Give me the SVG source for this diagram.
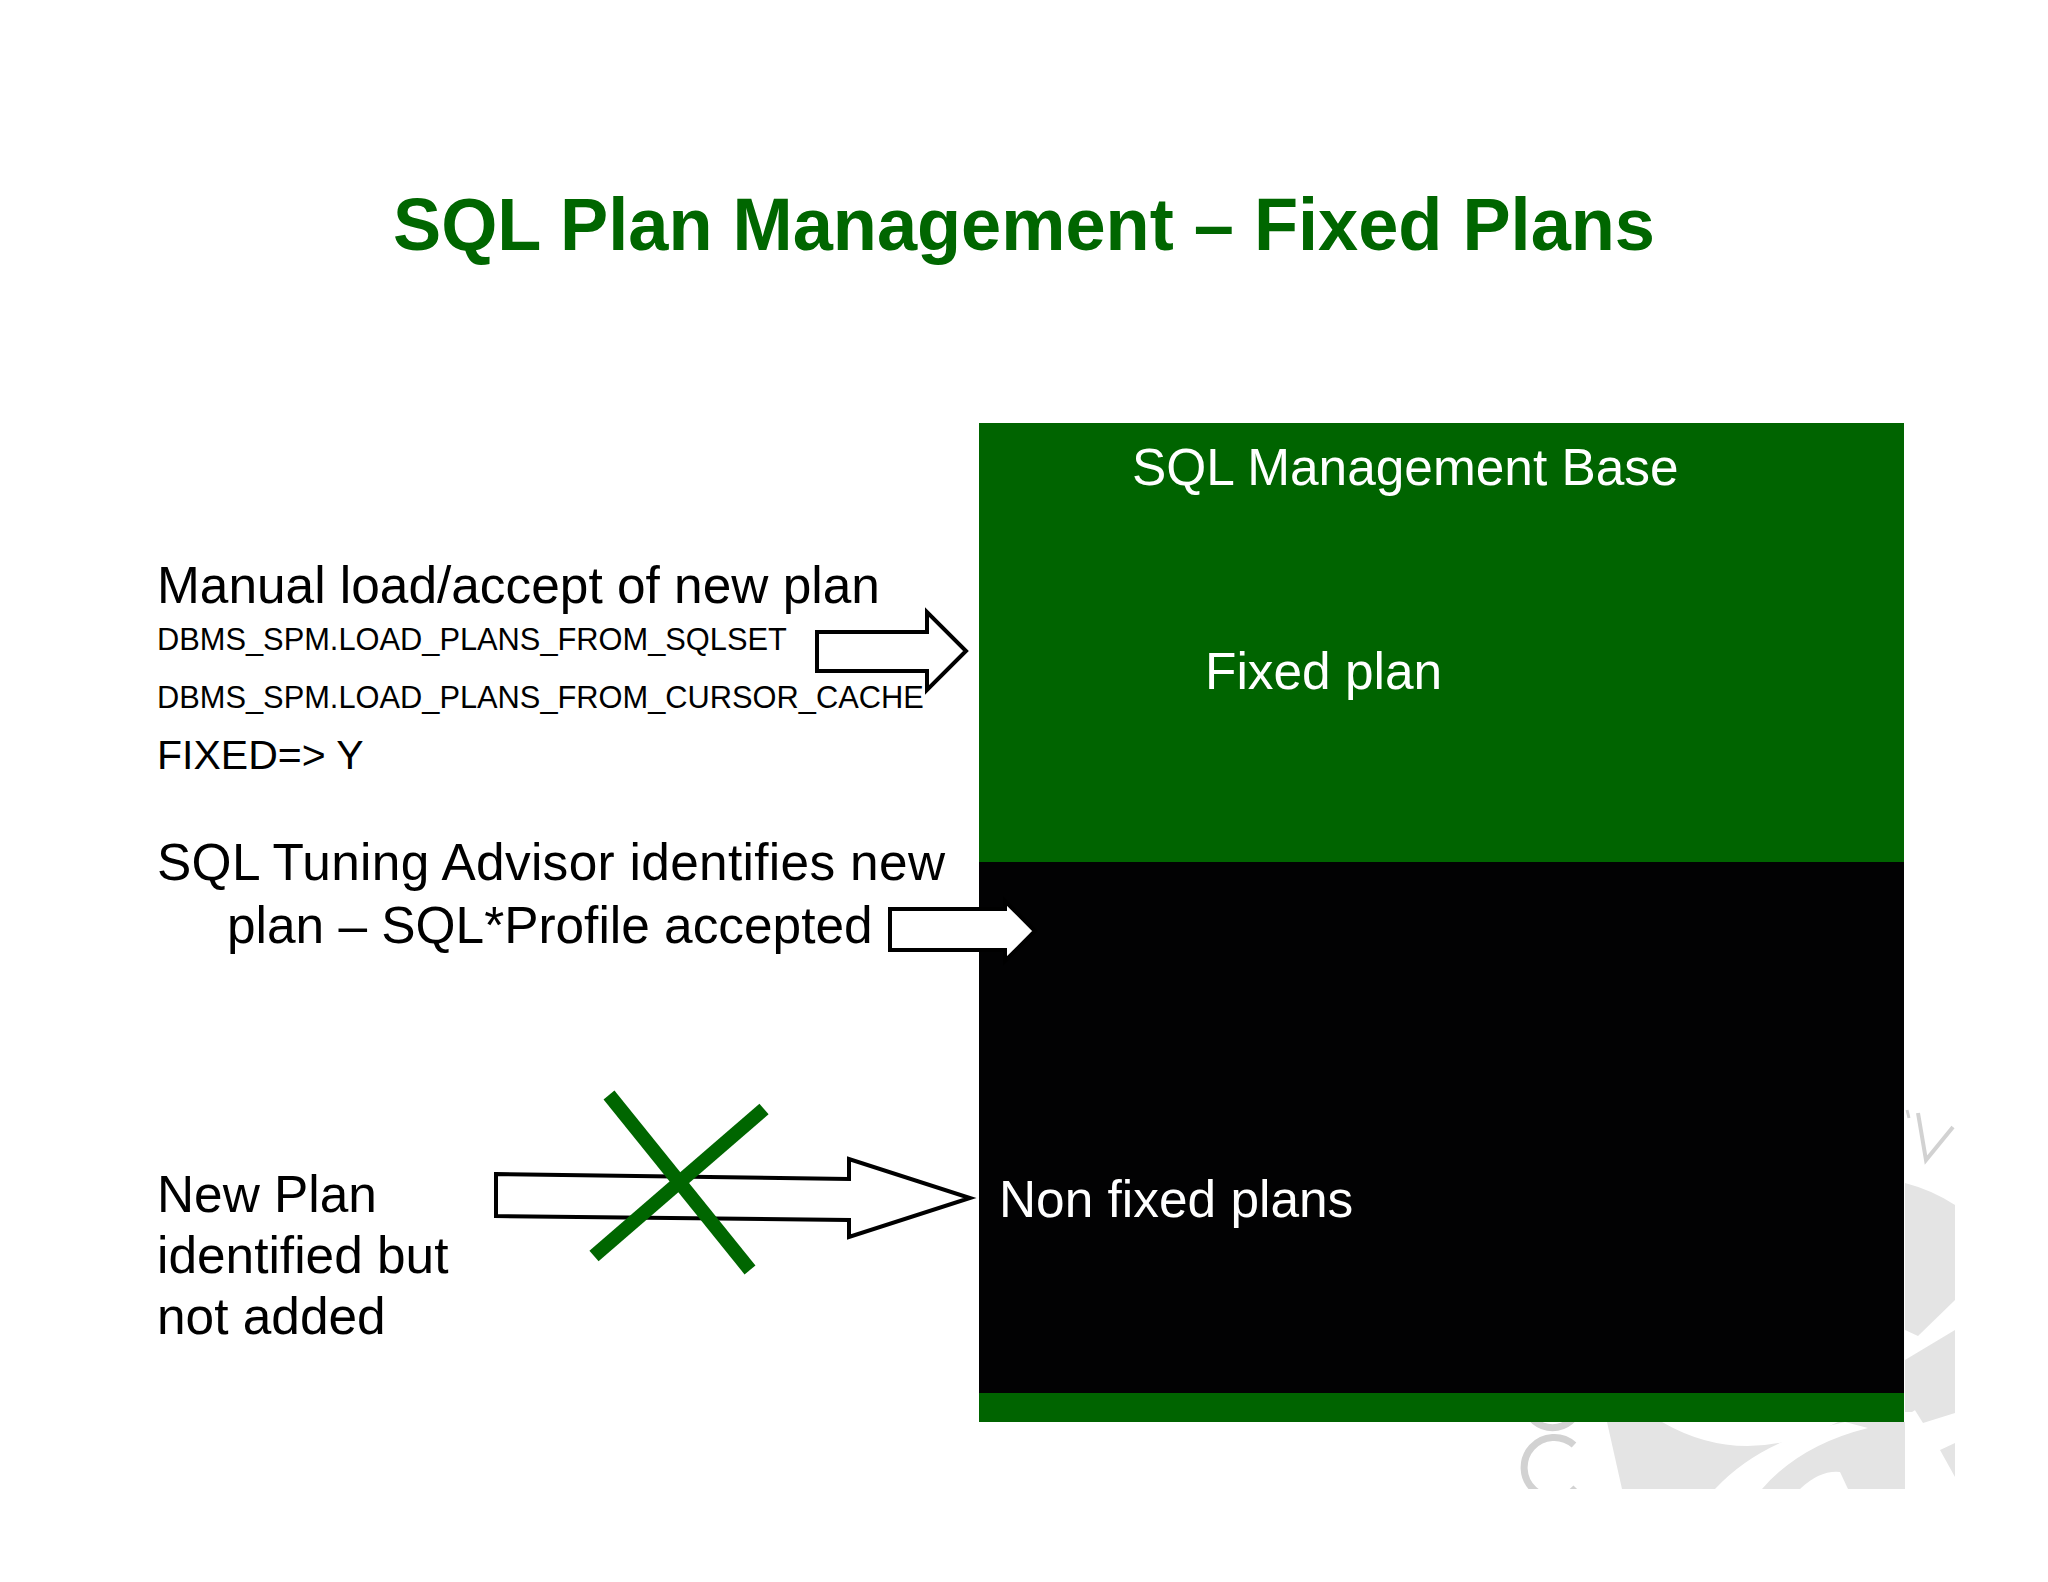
<svg xmlns="http://www.w3.org/2000/svg" width="2048" height="1582" viewBox="0 0 2048 1582">
  <defs>
    <style>
      .t { font-family: "Liberation Sans", Arial, sans-serif; fill: #000; }
      .w { font-family: "Liberation Sans", Arial, sans-serif; fill: #fff; }
      .big { font-size: 51.4px; }
      .code { font-size: 30.8px; }
      .blk { fill: #fff; stroke: #000; stroke-width: 4; stroke-linejoin: miter; }
      .wm { fill: #e4e4e4; }
      .wml { fill: none; stroke: #d2d2d2; stroke-width: 7; }
      .cross { stroke: #006600; stroke-width: 14; stroke-linecap: butt; }
    </style>
    <clipPath id="wmclip">
      <rect x="1450" y="1080" width="505" height="409"/>
    </clipPath>
  </defs>
  <rect width="2048" height="1582" fill="#fff"/>

  <g id="watermark" clip-path="url(#wmclip)">
    <path class="wm" d="M1607,1422 L1905,1422 L1905,1489 L1622,1489 Z"/>
    <path fill="#fff" d="M1662,1422 Q1745,1470 1838,1422 Z"/>
    <path fill="#fff" d="M1715,1489 L1762,1489 Q1800,1445 1868,1428 L1845,1422 Q1760,1440 1715,1489 Z"/>
    <path fill="#fff" d="M1800,1489 Q1820,1470 1840,1472 L1848,1489 Z"/>
    <path class="wm" d="M1905,1183 Q1932,1190 1955,1205 L1955,1300 L1918,1336 L1905,1330 Z"/>
    <path class="wm" d="M1905,1360 L1955,1330 L1955,1385 L1912,1412 L1905,1412 Z"/>
    <path class="wm" d="M1913,1407 L1955,1380 L1955,1413 L1923,1423 Z"/>
    <path class="wm" d="M1940,1450 L1955,1443 L1955,1477 Z"/>
    <path class="wml" d="M1574,1445 A30,30 0 1 0 1576,1488"/>
    <path class="wml" d="M1525,1405 A28,28 0 0 0 1580,1405"/>
    <polyline points="1918,1113 1926,1160 1953,1127" fill="none" stroke="#d2d2d2" stroke-width="4"/>
    <line x1="1907" y1="1110" x2="1909" y2="1118" stroke="#d2d2d2" stroke-width="3"/>
  </g>

  <g id="title">
    <text x="393" y="250" font-family="Liberation Sans, Arial, sans-serif" font-weight="bold" font-size="74" fill="#006600" textLength="1262" lengthAdjust="spacingAndGlyphs">SQL Plan Management – Fixed Plans</text>
  </g>

  <g id="sql-management-base">
    <rect x="979" y="423" width="925" height="439" fill="#006400"/>
    <rect x="979" y="862" width="925" height="531" fill="#020203"/>
    <rect x="979" y="1393" width="925" height="29" fill="#006400"/>
    <text class="w big" x="1132" y="485">SQL Management Base</text>
  </g>

  <g id="fixed-plan">
    <text class="w big" x="1205" y="689">Fixed plan</text>
  </g>

  <g id="non-fixed-plans">
    <text class="w big" x="999" y="1217">Non fixed plans</text>
  </g>

  <g id="manual-load">
    <text class="t big" x="157" y="603">Manual load/accept of new plan</text>
    <text class="t code" x="157" y="650">DBMS_SPM.LOAD_PLANS_FROM_SQLSET</text>
    <text class="t code" x="157" y="708">DBMS_SPM.LOAD_PLANS_FROM_CURSOR_CACHE</text>
    <text class="t" x="157" y="769" font-size="41">FIXED=&gt; Y</text>
  </g>

  <g id="tuning-advisor">
    <text class="t big" x="157" y="880" textLength="788">SQL Tuning Advisor identifies new</text>
    <text class="t big" x="227" y="943">plan – SQL*Profile accepted</text>
  </g>

  <g id="new-plan">
    <text class="t big" x="157" y="1212">New Plan</text>
    <text class="t big" x="157" y="1273">identified but</text>
    <text class="t big" x="157" y="1334">not added</text>
  </g>

  <g id="connectors">
    <polygon class="blk" points="817,632 927,632 927,612 966,651 927,690 927,671 817,671"/>
    <polygon class="blk" points="890,909 1005,909 1005,901 1035,931 1005,961 1005,950 890,950"/>
    <polygon class="blk" points="496,1174 849,1179 849,1159 970,1198 849,1237 849,1220 496,1216"/>
    <g id="cross">
      <line class="cross" x1="609" y1="1095" x2="750" y2="1270"/>
      <line class="cross" x1="764" y1="1109" x2="594" y2="1256"/>
    </g>
  </g>
</svg>
